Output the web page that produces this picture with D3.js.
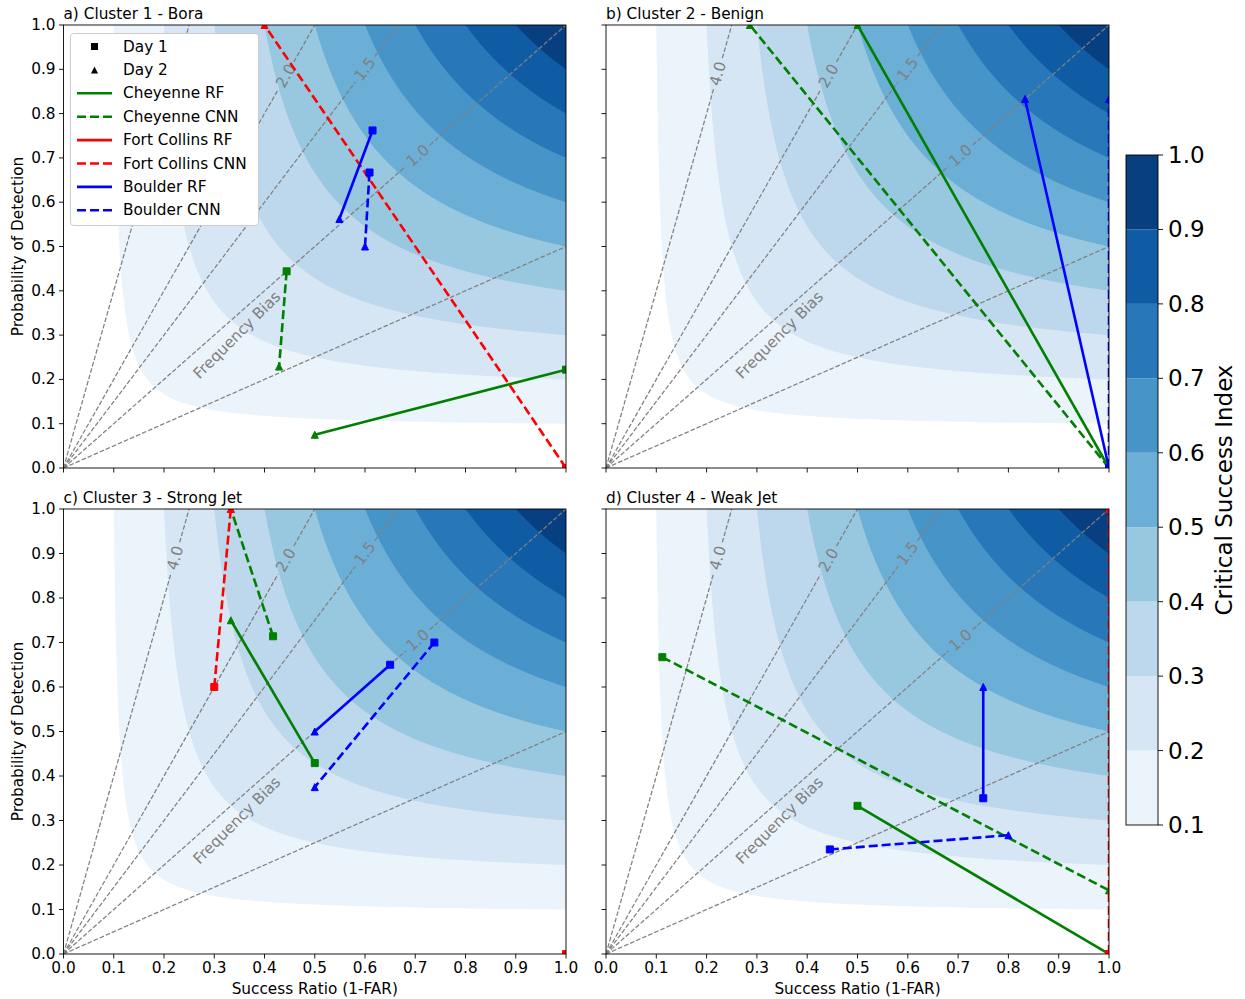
<!DOCTYPE html>
<html><head><meta charset="utf-8">
<script src="https://cdn.jsdelivr.net/npm/d3@7"></script>
<style>body{margin:0;background:#fff}svg{display:block;font-family:"DejaVu Sans",sans-serif}</style>
</head><body><svg id="chart" width="1245" height="999"></svg>
<script>
// ---------------- data ----------------
const panelTitles = ["a) Cluster 1 - Bora", "b) Cluster 2 - Benign", "c) Cluster 3 - Strong Jet", "d) Cluster 4 - Weak Jet"];
const modelNames = ["Cheyenne RF", "Cheyenne CNN", "Fort Collins RF", "Fort Collins CNN", "Boulder RF", "Boulder CNN"];
const dayNames = ["Day 1", "Day 2"];
// success ratio / probability of detection, per panel, per model
const srDay1 = [
  [1.00, 0.444, 1.00, 1.00, 0.615, 0.609],
  [1.00, 1.00, 1.00, 1.00, 1.00, 1.00],
  [0.50, 0.417, 1.00, 0.30, 0.65, 0.738],
  [0.50, 0.112, 1.00, 1.00, 0.75, 0.445]
];
const podDay1 = [
  [0.222, 0.444, 0.00, 0.00, 0.762, 0.667],
  [0.00, 0.00, 0.00, 0.00, 0.00, 0.00],
  [0.429, 0.714, 0.00, 0.60, 0.65, 0.70],
  [0.333, 0.667, 0.00, 0.00, 0.35, 0.235]
];
const srDay2 = [
  [0.50, 0.429, 1.00, 0.40, 0.549, 0.60],
  [0.50, 0.286, 1.00, 1.00, 0.833, 1.00],
  [0.333, 0.333, 1.00, 0.333, 0.50, 0.50],
  [1.00, 1.00, 1.00, 1.00, 0.75, 0.80]
];
const podDay2 = [
  [0.075, 0.229, 0.00, 1.00, 0.562, 0.50],
  [1.00, 1.00, 0.00, 0.00, 0.833, 0.833],
  [0.75, 1.00, 0.00, 1.00, 0.50, 0.375],
  [0.00, 0.143, 0.00, 1.00, 0.60, 0.267]
];
const csiLevels = [0.1, 0.2, 0.3, 0.4, 0.5, 0.6, 0.7, 0.8, 0.9, 1.0];
const biasValues = [0.5, 1.0, 1.5, 2.0, 4.0];
const biasLabelValues = [1.0, 1.5, 2.0, 4.0];
const biasLabelPod = [0.705, 0.90, 0.885, 0.89];
const axisTicks = [0, 0.1, 0.2, 0.3, 0.4, 0.5, 0.6, 0.7, 0.8, 0.9, 1.0];
const cbarTicks = [0.1, 0.2, 0.3, 0.4, 0.5, 0.6, 0.7, 0.8, 0.9, 1.0];

// ---------------- style ----------------
const bandColors = ["#ecf4fb", "#d6e6f4", "#bdd7ec", "#98c7e0", "#6baed6", "#4795c8", "#2878b9", "#105ca4", "#083f81"];
const modelColors = ["#008000", "#008000", "#ff0000", "#ff0000", "#0000ff", "#0000ff"];
const modelDash = [null, "9,4", null, "9,4", null, "9,4"];
const FS = 15.3;
const LW = 2.6;
const MS = 7;
const boxes = [
  {l: 63.5, r: 566, t: 25, b: 468},
  {l: 606, r: 1109, t: 25, b: 468},
  {l: 63.5, r: 566, t: 509, b: 954},
  {l: 606, r: 1109, t: 509, b: 954}
];

const svg = d3.select("#chart");
const defs = svg.append("defs");
const fmt1 = d3.format(".1f");

function measure(txt, size) {
  const t = svg.append("text").attr("font-size", size).text(txt);
  const w = t.node().getComputedTextLength();
  t.remove();
  return w;
}
function squarePath(cx, cy, s) {
  return `M${cx - s / 2},${cy - s / 2}h${s}v${s}h${-s}Z`;
}
function trianglePath(cx, cy, s) {
  return `M${cx},${cy - s / 2}L${cx + s / 2},${cy + s / 2}L${cx - s / 2},${cy + s / 2}Z`;
}

boxes.forEach((bx, pi) => {
  const x = d3.scaleLinear().domain([0, 1]).range([bx.l, bx.r]);
  const y = d3.scaleLinear().domain([0, 1]).range([bx.b, bx.t]);
  const clipId = "clip" + pi;
  defs.append("clipPath").attr("id", clipId).append("rect")
    .attr("x", bx.l).attr("y", bx.t).attr("width", bx.r - bx.l).attr("height", bx.b - bx.t);
  const g = svg.append("g");
  const plot = g.append("g").attr("clip-path", `url(#${clipId})`);

  // CSI filled contours
  const area = d3.line().x(d => x(d[0])).y(d => y(d[1]));
  csiLevels.slice(0, -1).forEach((c, i) => {
    const pts = d3.range(0, 1.00001, 0.0025).map(t => {
      const sr = c + (1 - c) * t * t;
      const pod = Math.min(1, 1 / (1 / c + 1 - 1 / sr));
      return [sr, pod];
    });
    pts.push([1, 1]);
    plot.append("path").attr("d", area(pts) + "Z").attr("fill", bandColors[i]).attr("stroke", "none");
  });

  // frequency bias lines
  biasValues.forEach(b => {
    const end = b >= 1 ? [1 / b, 1] : [1, b];
    const x0 = x(0), y0 = y(0), x1 = x(end[0]), y1 = y(end[1]);
    const L = Math.hypot(x1 - x0, y1 - y0);
    const ux = (x1 - x0) / L, uy = (y1 - y0) / L;
    const li = biasLabelValues.indexOf(b);
    const segs = [];
    if (li >= 0) {
      const pod = biasLabelPod[li], sr = pod / b;
      const lx = x(sr), ly = y(pod);
      const d = Math.hypot(lx - x0, ly - y0);
      const label = fmt1(b);
      const hw = measure(label, FS) / 2 + 4;
      segs.push([0, d - hw], [d + hw, L]);
      const ang = Math.atan2(uy, ux) * 180 / Math.PI;
      plot.append("text").attr("transform", `translate(${lx},${ly}) rotate(${ang})`)
        .attr("text-anchor", "middle").attr("dominant-baseline", "central")
        .attr("font-size", FS).attr("fill", "#808080").text(label);
    } else segs.push([0, L]);
    segs.forEach(s => {
      plot.append("line")
        .attr("x1", x0 + ux * s[0]).attr("y1", y0 + uy * s[0])
        .attr("x2", x0 + ux * s[1]).attr("y2", y0 + uy * s[1])
        .attr("stroke", "#808080").attr("stroke-width", 1.25).attr("stroke-dasharray", "4.6,2");
    });
  });
  plot.append("text").attr("transform", `translate(${x(0.345)},${y(0.30)}) rotate(-45)`)
    .attr("text-anchor", "middle").attr("dominant-baseline", "central")
    .attr("font-size", FS).attr("fill", "#808080").text("Frequency Bias");

  // model lines
  modelNames.forEach((m, mi) => {
    const p1 = [srDay1[pi][mi], podDay1[pi][mi]], p2 = [srDay2[pi][mi], podDay2[pi][mi]];
    const ln = plot.append("line").attr("x1", x(p1[0])).attr("y1", y(p1[1])).attr("x2", x(p2[0])).attr("y2", y(p2[1]))
      .attr("stroke", modelColors[mi]).attr("stroke-width", LW);
    if (modelDash[mi]) ln.attr("stroke-dasharray", modelDash[mi]);
    plot.append("path").attr("d", squarePath(x(p1[0]), y(p1[1]), MS)).attr("fill", modelColors[mi])
      .attr("stroke", modelColors[mi]).attr("stroke-width", 1);
    plot.append("path").attr("d", trianglePath(x(p2[0]), y(p2[1]), MS)).attr("fill", modelColors[mi])
      .attr("stroke", modelColors[mi]).attr("stroke-width", 1);
  });

  // spines
  g.append("rect").attr("x", bx.l).attr("y", bx.t).attr("width", bx.r - bx.l).attr("height", bx.b - bx.t)
    .attr("fill", "none").attr("stroke", "#000").attr("stroke-width", 0.9);

  // ticks
  axisTicks.forEach(v => {
    g.append("line").attr("x1", x(v)).attr("x2", x(v)).attr("y1", bx.b).attr("y2", bx.b + 4.5)
      .attr("stroke", "#000").attr("stroke-width", 0.9);
    g.append("line").attr("y1", y(v)).attr("y2", y(v)).attr("x1", bx.l).attr("x2", bx.l - 4.5)
      .attr("stroke", "#000").attr("stroke-width", 0.9);
    if (pi >= 2) {
      g.append("text").attr("x", x(v)).attr("y", bx.b + 8).attr("text-anchor", "middle")
        .attr("dominant-baseline", "hanging").attr("font-size", FS).attr("fill", "#000").text(fmt1(v));
    }
    if (pi % 2 === 0) {
      g.append("text").attr("x", bx.l - 8).attr("y", y(v)).attr("text-anchor", "end")
        .attr("dominant-baseline", "central").attr("font-size", FS).attr("fill", "#000").text(fmt1(v));
    }
  });
  if (pi >= 2) {
    g.append("text").attr("x", (bx.l + bx.r) / 2).attr("y", 994).attr("text-anchor", "middle")
      .attr("font-size", FS).attr("fill", "#000").text("Success Ratio (1-FAR)");
  }
  if (pi % 2 === 0) {
    g.append("text").attr("transform", `translate(18,${(bx.t + bx.b) / 2}) rotate(-90)`)
      .attr("text-anchor", "middle").attr("dominant-baseline", "central")
      .attr("font-size", FS).attr("fill", "#000").text("Probability of Detection");
  }
  g.append("text").attr("x", bx.l).attr("y", bx.t - 6).attr("font-size", FS).attr("fill", "#000").text(panelTitles[pi]);

  // legend (panel a)
  if (pi === 0) {
    const lg = g.append("g");
    lg.append("rect").attr("x", 70.5).attr("y", 33.5).attr("width", 188).attr("height", 192).attr("rx", 3)
      .attr("fill", "#fff").attr("stroke", "#cccccc").attr("stroke-width", 1);
    const rowY = i => 46.5 + i * 23.4;
    dayNames.forEach((dn, i) => {
      const cy = rowY(i);
      lg.append("path").attr("d", i === 0 ? squarePath(94.5, cy, MS) : trianglePath(94.5, cy, MS)).attr("fill", "#000");
      lg.append("text").attr("x", 123).attr("y", cy).attr("dominant-baseline", "central").attr("font-size", FS).text(dn);
    });
    modelNames.forEach((m, mi) => {
      const cy = rowY(mi + 2);
      const ln = lg.append("line").attr("x1", 77).attr("x2", 112).attr("y1", cy).attr("y2", cy)
        .attr("stroke", modelColors[mi]).attr("stroke-width", LW);
      if (modelDash[mi]) ln.attr("stroke-dasharray", modelDash[mi]);
      lg.append("text").attr("x", 123).attr("y", cy).attr("dominant-baseline", "central").attr("font-size", FS).text(m);
    });
  }
});

// colorbar
const cb = {l: 1126, r: 1158, t: 155, b: 825};
const cy = d3.scaleLinear().domain([0.1, 1.0]).range([cb.b, cb.t]);
const cg = svg.append("g");
csiLevels.slice(0, -1).forEach((c, i) => {
  cg.append("rect").attr("x", cb.l).attr("y", cy(csiLevels[i + 1])).attr("width", cb.r - cb.l)
    .attr("height", cy(c) - cy(csiLevels[i + 1])).attr("fill", bandColors[i]);
});
cg.append("rect").attr("x", cb.l).attr("y", cb.t).attr("width", cb.r - cb.l).attr("height", cb.b - cb.t)
  .attr("fill", "none").attr("stroke", "#000").attr("stroke-width", 0.9);
cbarTicks.forEach(v => {
  cg.append("line").attr("x1", cb.r).attr("x2", cb.r + 5).attr("y1", cy(v)).attr("y2", cy(v))
    .attr("stroke", "#000").attr("stroke-width", 0.9);
  cg.append("text").attr("x", cb.r + 10).attr("y", cy(v)).attr("dominant-baseline", "central")
    .attr("font-size", 23).attr("fill", "#000").text(fmt1(v));
});
cg.append("text").attr("transform", `translate(1224,${(cb.t + cb.b) / 2}) rotate(-90)`)
  .attr("text-anchor", "middle").attr("dominant-baseline", "central").attr("font-size", 23)
  .attr("fill", "#000").text("Critical Success Index");
</script></body></html>
